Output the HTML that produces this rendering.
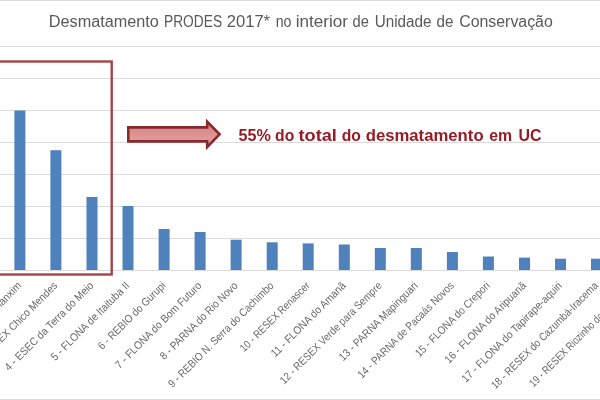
<!DOCTYPE html>
<html><head><meta charset="utf-8"><title>Desmatamento PRODES 2017</title>
<style>
html,body{margin:0;padding:0;background:#fff;}
body{width:600px;height:400px;overflow:hidden;}
svg{display:block;font-family:"Liberation Sans",sans-serif;}
</style></head><body>
<svg width="600" height="400" viewBox="0 0 600 400">
<rect width="600" height="400" fill="#fff"/>

<line x1="0" y1="0.5" x2="600" y2="0.5" stroke="#dbdbdb" stroke-width="1"/>
<line x1="0" y1="399.5" x2="600" y2="399.5" stroke="#dbdbdb" stroke-width="1"/>
<line x1="0" y1="46.5" x2="600" y2="46.5" stroke="#dbdbdb" stroke-width="1"/>
<line x1="0" y1="78.5" x2="600" y2="78.5" stroke="#dbdbdb" stroke-width="1"/>
<line x1="0" y1="110.5" x2="600" y2="110.5" stroke="#dbdbdb" stroke-width="1"/>
<line x1="0" y1="142.5" x2="600" y2="142.5" stroke="#dbdbdb" stroke-width="1"/>
<line x1="0" y1="174.5" x2="600" y2="174.5" stroke="#dbdbdb" stroke-width="1"/>
<line x1="0" y1="206.5" x2="600" y2="206.5" stroke="#dbdbdb" stroke-width="1"/>
<line x1="0" y1="238.5" x2="600" y2="238.5" stroke="#dbdbdb" stroke-width="1"/>
<line x1="0" y1="270.5" x2="600" y2="270.5" stroke="#dbdbdb" stroke-width="1"/>
<rect x="14.4" y="110.5" width="11" height="159.5" fill="#4f81bd"/>
<rect x="50.4" y="150.2" width="11" height="119.80000000000001" fill="#4f81bd"/>
<rect x="86.5" y="197" width="11" height="73" fill="#4f81bd"/>
<rect x="122.5" y="206" width="11" height="64" fill="#4f81bd"/>
<rect x="158.6" y="229" width="11" height="41" fill="#4f81bd"/>
<rect x="194.6" y="232" width="11" height="38" fill="#4f81bd"/>
<rect x="230.6" y="239.7" width="11" height="30.30000000000001" fill="#4f81bd"/>
<rect x="266.7" y="242.3" width="11" height="27.69999999999999" fill="#4f81bd"/>
<rect x="302.7" y="243.4" width="11" height="26.599999999999994" fill="#4f81bd"/>
<rect x="338.8" y="244.5" width="11" height="25.5" fill="#4f81bd"/>
<rect x="374.8" y="248" width="11" height="22" fill="#4f81bd"/>
<rect x="410.8" y="248" width="11" height="22" fill="#4f81bd"/>
<rect x="446.9" y="252" width="11" height="18" fill="#4f81bd"/>
<rect x="482.9" y="256.5" width="11" height="13.5" fill="#4f81bd"/>
<rect x="519.0" y="257.6" width="11" height="12.399999999999977" fill="#4f81bd"/>
<rect x="555.0" y="258.7" width="11" height="11.300000000000011" fill="#4f81bd"/>
<rect x="591.0" y="258.7" width="11" height="11.300000000000011" fill="#4f81bd"/>
<rect x="-10" y="61.5" width="121.7" height="213" fill="none" stroke="#a3444a" stroke-width="2.4"/>
<defs><linearGradient id="ag" x1="0" y1="0" x2="0" y2="1"><stop offset="0" stop-color="#d68283"/><stop offset="1" stop-color="#e2a3a3"/></linearGradient></defs>
<path d="M128.3 127.4 H207.2 V121.6 L219.6 134.3 L207.2 147 V141.4 H128.3 Z" fill="url(#ag)" stroke="#882a2c" stroke-width="2.6" stroke-linejoin="miter"/>
<text y="27.4" font-size="16" fill="#595959"><tspan x="48.80" textLength="110.10" lengthAdjust="spacingAndGlyphs">Desmatamento</tspan> <tspan x="164.00" textLength="58.10" lengthAdjust="spacingAndGlyphs">PRODES</tspan> <tspan x="226.70" textLength="43.40" lengthAdjust="spacingAndGlyphs">2017*</tspan> <tspan x="275.70" textLength="15.80" lengthAdjust="spacingAndGlyphs">no</tspan> <tspan x="295.70" textLength="52.30" lengthAdjust="spacingAndGlyphs">interior</tspan> <tspan x="352.50" textLength="16.30" lengthAdjust="spacingAndGlyphs">de</tspan> <tspan x="374.70" textLength="56.80" lengthAdjust="spacingAndGlyphs">Unidade</tspan> <tspan x="436.50" textLength="16.80" lengthAdjust="spacingAndGlyphs">de</tspan> <tspan x="459.20" textLength="93.60" lengthAdjust="spacingAndGlyphs">Conservação</tspan></text>
<text y="141.3" font-size="17" font-weight="bold" fill="#951c24"><tspan x="238.50" textLength="32.30" lengthAdjust="spacingAndGlyphs">55%</tspan> <tspan x="275.10" textLength="19.20" lengthAdjust="spacingAndGlyphs">do</tspan> <tspan x="298.50" textLength="38.40" lengthAdjust="spacingAndGlyphs">total</tspan> <tspan x="341.70" textLength="19.20" lengthAdjust="spacingAndGlyphs">do</tspan> <tspan x="365.70" textLength="117.90" lengthAdjust="spacingAndGlyphs">desmatamento</tspan> <tspan x="489.20" textLength="22.90" lengthAdjust="spacingAndGlyphs">em</tspan> <tspan x="518.50" textLength="23.00" lengthAdjust="spacingAndGlyphs">UC</tspan></text>
<text transform="translate(22.1,286.3) rotate(-45)" x="-112.5" y="0" textLength="112.5" lengthAdjust="spacingAndGlyphs" font-size="11" fill="#686868">2 - FLONA do Jamanxim</text>
<text transform="translate(58.1,286.3) rotate(-45)" x="-115.1" y="0" textLength="115.1" lengthAdjust="spacingAndGlyphs" font-size="11" fill="#686868">3 - RESEX Chico Mendes</text>
<text transform="translate(94.2,286.3) rotate(-45)" x="-120.4" y="0" textLength="120.4" lengthAdjust="spacingAndGlyphs" font-size="11" fill="#686868">4 - ESEC da Terra do Meio</text>
<text transform="translate(130.2,286.3) rotate(-45)" x="-106.0" y="0" textLength="106.0" lengthAdjust="spacingAndGlyphs" font-size="11" fill="#686868">5 - FLONA de Itaituba II</text>
<text transform="translate(166.3,286.3) rotate(-45)" x="-90.6" y="0" textLength="90.6" lengthAdjust="spacingAndGlyphs" font-size="11" fill="#686868">6 - REBIO do Gurupi</text>
<text transform="translate(202.3,286.3) rotate(-45)" x="-117.2" y="0" textLength="117.2" lengthAdjust="spacingAndGlyphs" font-size="11" fill="#686868">7 - FLONA do Bom Futuro</text>
<text transform="translate(238.3,286.3) rotate(-45)" x="-104.7" y="0" textLength="104.7" lengthAdjust="spacingAndGlyphs" font-size="11" fill="#686868">8 - PARNA do Rio Novo</text>
<text transform="translate(274.4,286.3) rotate(-45)" x="-144.0" y="0" textLength="144.0" lengthAdjust="spacingAndGlyphs" font-size="11" fill="#686868">9 - REBIO N. Serra do Cachimbo</text>
<text transform="translate(310.4,286.3) rotate(-45)" x="-93.4" y="0" textLength="93.4" lengthAdjust="spacingAndGlyphs" font-size="11" fill="#686868">10 - RESEX Renascer</text>
<text transform="translate(346.5,286.3) rotate(-45)" x="-100.8" y="0" textLength="100.8" lengthAdjust="spacingAndGlyphs" font-size="11" fill="#686868">11 - FLONA do Amanã</text>
<text transform="translate(382.5,286.3) rotate(-45)" x="-139.1" y="0" textLength="139.1" lengthAdjust="spacingAndGlyphs" font-size="11" fill="#686868">12 - RESEX Verde para Sempre</text>
<text transform="translate(418.5,286.3) rotate(-45)" x="-106.4" y="0" textLength="106.4" lengthAdjust="spacingAndGlyphs" font-size="11" fill="#686868">13 - PARNA Mapinguari</text>
<text transform="translate(454.6,286.3) rotate(-45)" x="-131.1" y="0" textLength="131.1" lengthAdjust="spacingAndGlyphs" font-size="11" fill="#686868">14 - PARNA de Pacaás Novos</text>
<text transform="translate(490.6,286.3) rotate(-45)" x="-100.7" y="0" textLength="100.7" lengthAdjust="spacingAndGlyphs" font-size="11" fill="#686868">15 - FLONA do Crepori</text>
<text transform="translate(526.7,286.3) rotate(-45)" x="-110.0" y="0" textLength="110.0" lengthAdjust="spacingAndGlyphs" font-size="11" fill="#686868">16 - FLONA do Aripuanã</text>
<text transform="translate(562.7,286.3) rotate(-45)" x="-136.7" y="0" textLength="136.7" lengthAdjust="spacingAndGlyphs" font-size="11" fill="#686868">17 - FLONA do Tapirape-aquiri</text>
<text transform="translate(598.7,286.3) rotate(-45)" x="-145.8" y="0" textLength="145.8" lengthAdjust="spacingAndGlyphs" font-size="11" fill="#686868">18 - RESEX do Cazumbá-Iracema</text>
<text transform="translate(634.8,286.3) rotate(-45)" x="-143.2" y="0" textLength="143.2" lengthAdjust="spacingAndGlyphs" font-size="11" fill="#686868">19 - RESEX Riozinho da Liberdade</text>
</svg></body></html>
